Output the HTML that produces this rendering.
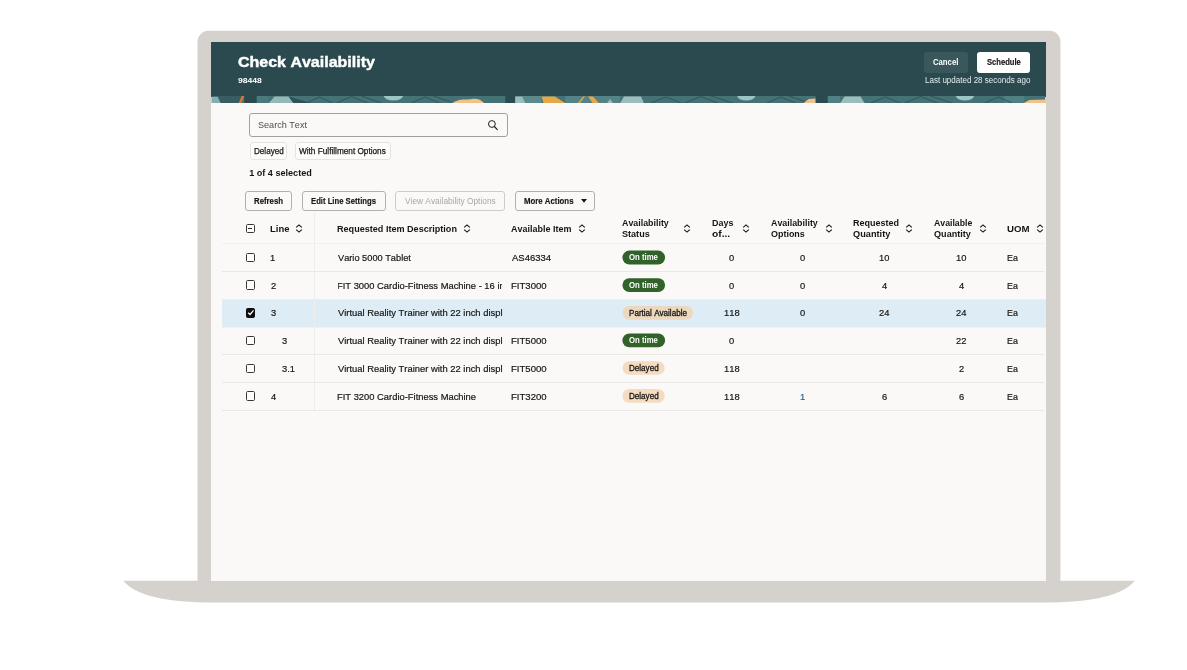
<!DOCTYPE html>
<html>
<head>
<meta charset="utf-8">
<style>
*{box-sizing:border-box;margin:0;padding:0}
html,body{width:1187px;height:670px;background:#fff;overflow:hidden}
body{font-family:"Liberation Sans",sans-serif;color:#161513;position:relative;font-kerning:none}
.abs{position:absolute}
#laptop{left:0;top:0}
#screen{left:211px;top:42px;width:835px;height:539px;background:#fbf9f8;overflow:hidden}
#pg{left:-211px;top:-42px;width:1187px;height:670px;will-change:transform}
#hdr{left:211px;top:42px;width:835px;height:54.5px;background:#2b4a50}
#strip{left:211px;top:96.1px;width:835px;height:7.2px}
.t{position:absolute;white-space:nowrap;line-height:1;transform-origin:0 0}
.clip{position:absolute;overflow:hidden}
.btn{position:absolute;border:1px solid #b3b0ab;border-radius:3px;background:#fbf9f8}
.chip{position:absolute;border:1px solid #e6e3df;border-radius:3px;background:#fdfcfb}
.hl{position:absolute;left:222px;width:822px;height:1px;background:#ebe8e4}
.bdg{position:absolute;left:622.4px;height:13.7px;border-radius:7px}
.on{background:#31622a}.pa{background:#ecd8bf}.de{background:#f5dcc0}
.cb{position:absolute;left:245.6px;width:9.4px;height:9.4px;border:1.1px solid #3a3835;border-radius:1.6px;background:#fdfcfb}
</style>
</head>
<body>
<svg id="laptop" class="abs" width="1187" height="670" viewBox="0 0 1187 670">
  <path d="M197.5,586 V41.7 A11,11 0 0 1 208.5,30.7 H1049.4 A11,11 0 0 1 1060.4,41.7 V586 Z" fill="#d5d2cd"/>
  <path d="M123.3,580.8 H1134.7 Q1117.5,602.6 1043,602.6 H215 Q140.5,602.6 123.3,580.8 Z" fill="#d5d2cd"/>
</svg>
<div id="screen" class="abs"><div id="pg" class="abs">
  <div id="hdr" class="abs"></div>
  <svg id="strip" class="abs" width="835" height="7.2" viewBox="0 0 835 7.2">
    <rect width="835" height="7.2" fill="#457275"/>
    <rect x="45" width="12" height="7.2" fill="#4a7a7c"/>
    <rect x="311" width="19.5" height="7.2" fill="#5b8a8c"/>
    <rect x="354" width="55" height="7.2" fill="#538386"/>
    <rect x="617" width="12.4" height="7.2" fill="#4f8184"/>
    <rect x="794" width="20" height="7.2" fill="#4f8184"/>
    <g fill="none" stroke="#2f5256" stroke-width="0.9">
      <path d="M95,7 L108,1 L121,7 M125,7 L140,0.5 L156,7 M150,0 L170,7"/>
      <path d="M200,7 L214,1 L228,7 M222,0 L240,6"/>
      <path d="M440,7 L455,1 L470,7 M474,7 L490,0.5 L507,7 M500,0 L522,7"/>
      <path d="M556,7 L570,1 L585,7 M578,0 L596,6"/>
      <path d="M660,7 L675,1 L690,7 M694,7 L710,0.5 L727,7 M720,0 L742,7"/>
      <path d="M774,7 L788,1 L802,7"/>
    </g>
    <polygon points="6,0 30,0 27,7.2 9,7.2" fill="#375d61"/>
    <polygon points="0,1 6,1 9,7.2 0,7.2" fill="#86aeb0"/>
    <polygon points="30,0 32.6,0 29.6,7.2 27,7.2" fill="#d9773b"/>
    <rect x="32.6" width="12.4" height="7.2" fill="#2b4a50"/>
    <polygon points="57,7.2 63,0.6 77,0.6 82,7.2" fill="#96b7b7"/>
    <polygon points="77,0.6 82,7.2 100,7.2" fill="#2f5256"/>
    <ellipse cx="182" cy="0.3" rx="9.5" ry="4.2" fill="#9cc4c4"/>
    <path d="M241,7.2 Q246,3.4 252,3.4 Q258,4 262,2.8 Q269,2.4 273,7.2 Z" fill="#f0c28a"/>
    <rect x="294" width="10" height="7.2" fill="#2b4a50"/>
    <polygon points="304,0.5 311,0.5 314,7.2 304,7.2" fill="#9dbcbc"/>
    <polygon points="330.5,0.4 343.8,0.4 354.4,7.2 332.3,7.2" fill="#e3a84a"/>
    <polygon points="366.5,7.2 368.6,7.2 374,0.4 372.2,0.4" fill="#e3a84a"/><polygon points="377,0.4 381.8,0.4 388,7.2 381.6,7.2" fill="#e3a84a"/>
    <polygon points="396,7.2 399,3 402,7.2" fill="#9dbcbc"/>
    <polygon points="409,7.2 413,0.6 430,0.6 433,7.2" fill="#9dbcbc"/>
    <ellipse cx="535.5" cy="0.3" rx="9" ry="4.2" fill="#9cc4c4"/>
    <polygon points="592.7,7.2 598,3 605,2.5 605,7.2" fill="#f0c28a"/>
    <rect x="605" width="12" height="7.2" fill="#2b4a50"/>
    <polygon points="629.4,7.2 634,0.6 650,0.6 654,7.2" fill="#9dbcbc"/>
    <ellipse cx="754.5" cy="0.3" rx="9" ry="4.2" fill="#9cc4c4"/>
    <polygon points="813,7.2 819,4 835,3.4 835,7.2" fill="#f0c28a"/>
  </svg>
  <!-- header buttons -->
  <div class="abs" style="left:923.9px;top:52.3px;width:44.1px;height:20.4px;background:#3a585c;border-radius:3px"></div>
  <div class="abs" style="left:976.8px;top:52.3px;width:53.5px;height:20.4px;background:#fff;border-radius:3px"></div>
  <!-- search -->
  <div class="abs" style="left:249.2px;top:112.6px;width:259.3px;height:24.7px;border:1px solid #a3a09b;border-radius:3px;background:#fbf9f8"></div>
  <svg class="abs" style="left:487px;top:119px" width="12" height="12" viewBox="0 0 12 12"><circle cx="4.9" cy="5" r="3.4" fill="none" stroke="#1d1c1a" stroke-width="1"/><path d="M7.4,7.5 L10.3,10.6" stroke="#1d1c1a" stroke-width="1.1" stroke-linecap="round"/></svg>
  <!-- chips -->
  <div class="chip" style="left:249.7px;top:142.3px;width:37.3px;height:17.7px"></div>
  <div class="chip" style="left:294.5px;top:142.3px;width:96.7px;height:17.7px"></div>
  <!-- toolbar buttons -->
  <div class="btn" style="left:244.7px;top:190.6px;width:47.5px;height:20.8px"></div>
  <div class="btn" style="left:301.8px;top:190.6px;width:83.9px;height:20.8px"></div>
  <div class="btn" style="left:394.8px;top:190.6px;width:110.6px;height:20.8px;border-color:#cfccc8"></div>
  <div class="btn" style="left:515px;top:190.6px;width:79.8px;height:20.8px"></div>
  <svg class="abs" style="left:581px;top:199px" width="6" height="4" viewBox="0 0 6 4"><path d="M0,0 H6 L3,3.8 Z" fill="#161513"/></svg>
  <!-- table -->
  <svg class="abs" style="left:0;top:0" width="1187" height="670" viewBox="0 0 1187 670"><rect x="222" y="299.2" width="824" height="28.3" fill="#deedf5"/></svg>
  <div class="hl" style="top:243.4px;background:#f2f0ed"></div>
  <div class="hl" style="top:270.9px"></div>
  <div class="hl" style="top:354.2px"></div>
  <div class="hl" style="top:381.9px"></div>
  <div class="hl" style="top:409.6px"></div>
  <div class="abs" style="left:314.1px;top:213px;width:1.4px;height:197px;background:#efedea"></div>
  <svg class="abs" style="left:0;top:0" width="1187" height="670" viewBox="0 0 1187 670">
<rect x="622.4" y="250.6" width="42.7" height="13.9" rx="6.95" fill="#31622a"/>
<rect x="622.4" y="278.2" width="42.7" height="13.7" rx="6.85" fill="#31622a"/>
<rect x="622.4" y="305.9" width="70.8" height="13.9" rx="6.95" fill="#ecd8bf"/>
<rect x="622.4" y="333.5" width="42.7" height="13.8" rx="6.90" fill="#31622a"/>
<rect x="622.4" y="361.2" width="42.3" height="13.6" rx="6.80" fill="#f5dcc0"/>
<rect x="622.4" y="389.1" width="42.3" height="13.6" rx="6.80" fill="#f5dcc0"/>
</svg>
  <div class="cb" style="top:224px"><i style="position:absolute;left:1.5px;top:3.05px;width:4.3px;height:1.2px;background:#2a2826"></i></div>
<div class="cb" style="top:252.76px"></div>
<div class="cb" style="top:280.48px"></div>
<div class="cb" style="top:308.20px;background:#100f0e;border-color:#100f0e"><svg style="position:absolute;left:-1.1px;top:-1.1px" width="9.4" height="9.4" viewBox="0 0 9.4 9.4"><path d="M2.2,4.7 L4.1,6.5 L7.5,2.4" fill="none" stroke="#fff" stroke-width="1.3"/></svg></div>
<div class="cb" style="top:335.92px"></div>
<div class="cb" style="top:363.64px"></div>
<div class="cb" style="top:391.36px"></div>
  <svg class="abs" style="left:295.2px;top:224.4px" width="8" height="9" viewBox="0 0 8 9"><path d="M1.2,3.4 L4,0.9 L6.8,3.4 M1.2,5.6 L4,8.1 L6.8,5.6" fill="none" stroke="#161513" stroke-width="1.15"/></svg>
<svg class="abs" style="left:462.8px;top:224.4px" width="8" height="9" viewBox="0 0 8 9"><path d="M1.2,3.4 L4,0.9 L6.8,3.4 M1.2,5.6 L4,8.1 L6.8,5.6" fill="none" stroke="#161513" stroke-width="1.15"/></svg>
<svg class="abs" style="left:577.8px;top:224.4px" width="8" height="9" viewBox="0 0 8 9"><path d="M1.2,3.4 L4,0.9 L6.8,3.4 M1.2,5.6 L4,8.1 L6.8,5.6" fill="none" stroke="#161513" stroke-width="1.15"/></svg>
<svg class="abs" style="left:683.1px;top:224.4px" width="8" height="9" viewBox="0 0 8 9"><path d="M1.2,3.4 L4,0.9 L6.8,3.4 M1.2,5.6 L4,8.1 L6.8,5.6" fill="none" stroke="#161513" stroke-width="1.15"/></svg>
<svg class="abs" style="left:742.2px;top:224.4px" width="8" height="9" viewBox="0 0 8 9"><path d="M1.2,3.4 L4,0.9 L6.8,3.4 M1.2,5.6 L4,8.1 L6.8,5.6" fill="none" stroke="#161513" stroke-width="1.15"/></svg>
<svg class="abs" style="left:824.6px;top:224.4px" width="8" height="9" viewBox="0 0 8 9"><path d="M1.2,3.4 L4,0.9 L6.8,3.4 M1.2,5.6 L4,8.1 L6.8,5.6" fill="none" stroke="#161513" stroke-width="1.15"/></svg>
<svg class="abs" style="left:905.1px;top:224.4px" width="8" height="9" viewBox="0 0 8 9"><path d="M1.2,3.4 L4,0.9 L6.8,3.4 M1.2,5.6 L4,8.1 L6.8,5.6" fill="none" stroke="#161513" stroke-width="1.15"/></svg>
<svg class="abs" style="left:979.1px;top:224.4px" width="8" height="9" viewBox="0 0 8 9"><path d="M1.2,3.4 L4,0.9 L6.8,3.4 M1.2,5.6 L4,8.1 L6.8,5.6" fill="none" stroke="#161513" stroke-width="1.15"/></svg>
<svg class="abs" style="left:1036.2px;top:224.4px" width="8" height="9" viewBox="0 0 8 9"><path d="M1.2,3.4 L4,0.9 L6.8,3.4 M1.2,5.6 L4,8.1 L6.8,5.6" fill="none" stroke="#161513" stroke-width="1.15"/></svg>
  <span class="t" style="font-size:15.4px;top:54.10px;color:#fff;font-weight:700;-webkit-text-stroke:0.45px;transform:scaleX(1.0389);left:237.84px;">Check Availability</span>
<span class="t" style="font-size:8px;top:76.80px;color:#fff;font-weight:700;transform:scaleX(1.0726);left:237.50px;">98448</span>
<span class="t" style="font-size:8.2px;top:58.70px;color:#fff;font-weight:700;transform:scaleX(0.9433);left:933.28px;">Cancel</span>
<span class="t" style="font-size:8.2px;top:58.70px;color:#161513;font-weight:700;-webkit-text-stroke:0.15px;transform:scaleX(0.9294);left:986.68px;">Schedule</span>
<span class="t" style="font-size:8.3px;top:76.15px;color:#e3ecec;transform:scaleX(0.9677);left:924.94px;">Last updated 28 seconds ago</span>
<span class="t" style="font-size:9.6px;top:120.00px;color:#4f4d4a;transform:scaleX(0.9464);left:258.19px;">Search Text</span>
<span class="t" style="font-size:8.3px;top:147.15px;color:#161513;-webkit-text-stroke:0.25px;transform:scaleX(0.9748);left:253.94px;">Delayed</span>
<span class="t" style="font-size:8.3px;top:147.15px;color:#161513;-webkit-text-stroke:0.25px;transform:scaleX(0.9908);left:299.36px;">With Fulfillment Options</span>
<span class="t" style="font-size:9.1px;top:168.75px;color:#161513;font-weight:700;left:249.13px;">1 of 4 selected</span>
<span class="t" style="font-size:8.2px;top:197.70px;color:#161513;font-weight:700;-webkit-text-stroke:0.15px;transform:scaleX(0.9533);left:253.98px;">Refresh</span>
<span class="t" style="font-size:8.2px;top:197.70px;color:#161513;font-weight:700;-webkit-text-stroke:0.15px;transform:scaleX(0.9391);left:310.88px;">Edit Line Settings</span>
<span class="t" style="font-size:8.2px;top:197.70px;color:#a9a6a2;transform:scaleX(1.0169);left:404.86px;">View Availability Options</span>
<span class="t" style="font-size:8.2px;top:197.70px;color:#161513;font-weight:700;-webkit-text-stroke:0.15px;transform:scaleX(0.9539);left:524.28px;">More Actions</span>
<span class="t" style="font-size:9.8px;top:223.90px;color:#161513;font-weight:700;transform:scaleX(0.9658);left:269.87px;">Line</span>
<span class="t" style="font-size:9.8px;top:223.90px;color:#161513;font-weight:700;transform:scaleX(0.9256);left:337.09px;">Requested Item Description</span>
<span class="t" style="font-size:9.8px;top:223.90px;color:#161513;font-weight:700;transform:scaleX(0.9177);left:511.08px;">Available Item</span>
<span class="t" style="font-size:9.8px;top:217.90px;color:#161513;font-weight:700;transform:scaleX(0.9039);left:622.38px;">Availability</span>
<span class="t" style="font-size:9.8px;top:228.90px;color:#161513;font-weight:700;transform:scaleX(0.9260);left:622.34px;">Status</span>
<span class="t" style="font-size:9.8px;top:217.90px;color:#161513;font-weight:700;transform:scaleX(0.9164);left:711.50px;">Days</span>
<span class="t" style="font-size:9.8px;top:228.90px;color:#161513;font-weight:700;transform:scaleX(1.0452);left:711.70px;">of...</span>
<span class="t" style="font-size:9.8px;top:217.90px;color:#161513;font-weight:700;transform:scaleX(0.9039);left:770.98px;">Availability</span>
<span class="t" style="font-size:9.8px;top:228.90px;color:#161513;font-weight:700;transform:scaleX(0.9140);left:770.83px;">Options</span>
<span class="t" style="font-size:9.8px;top:217.90px;color:#161513;font-weight:700;transform:scaleX(0.9181);left:853.00px;">Requested</span>
<span class="t" style="font-size:9.8px;top:228.90px;color:#161513;font-weight:700;transform:scaleX(0.9391);left:853.22px;">Quantity</span>
<span class="t" style="font-size:9.8px;top:217.90px;color:#161513;font-weight:700;transform:scaleX(0.8904);left:934.38px;">Available</span>
<span class="t" style="font-size:9.8px;top:228.90px;color:#161513;font-weight:700;transform:scaleX(0.9290);left:934.23px;">Quantity</span>
<span class="t" style="font-size:9.8px;top:223.90px;color:#161513;font-weight:700;transform:scaleX(0.9852);left:1007.32px;">UOM</span>
<span class="t" style="font-size:9.8px;top:252.90px;color:#161513;-webkit-text-stroke:0.2px;transform:scaleX(0.9550);left:270.49px;">1</span>
<span class="t" style="font-size:9.8px;top:252.90px;color:#161513;-webkit-text-stroke:0.2px;transform:scaleX(0.9424);left:337.76px;">Vario 5000 Tablet</span>
<span class="t" style="font-size:9.8px;top:252.90px;color:#161513;-webkit-text-stroke:0.2px;transform:scaleX(0.9671);left:511.58px;">AS46334</span>
<span class="t" style="font-size:9.8px;top:252.90px;color:#161513;-webkit-text-stroke:0.2px;transform:scaleX(0.9550);left:729.40px;">0</span>
<span class="t" style="font-size:9.8px;top:252.90px;color:#161513;-webkit-text-stroke:0.2px;transform:scaleX(0.9550);left:799.70px;">0</span>
<span class="t" style="font-size:9.8px;top:252.90px;color:#161513;-webkit-text-stroke:0.2px;transform:scaleX(0.9550);left:878.92px;">10</span>
<span class="t" style="font-size:9.8px;top:252.90px;color:#161513;-webkit-text-stroke:0.2px;transform:scaleX(0.9550);left:956.32px;">10</span>
<span class="t" style="font-size:9.8px;top:252.90px;color:#161513;-webkit-text-stroke:0.2px;transform:scaleX(0.9032);left:1007.17px;">Ea</span>
<span class="t" style="font-size:9.8px;top:280.90px;color:#161513;-webkit-text-stroke:0.2px;transform:scaleX(0.9550);left:270.73px;">2</span>
<div class="clip" style="left:337.80px;top:278.90px;width:164.20px;height:13.80px"><span class="t" style="font-size:9.8px;top:2px;color:#161513;-webkit-text-stroke:0.2px;transform:scaleX(0.9564);left:-0.77px;">FIT 3000 Cardio-Fitness Machine - 16 inch</span></div>
<span class="t" style="font-size:9.8px;top:280.90px;color:#161513;-webkit-text-stroke:0.2px;transform:scaleX(0.9771);left:510.81px;">FIT3000</span>
<span class="t" style="font-size:9.8px;top:280.90px;color:#161513;-webkit-text-stroke:0.2px;transform:scaleX(0.9550);left:729.40px;">0</span>
<span class="t" style="font-size:9.8px;top:280.90px;color:#161513;-webkit-text-stroke:0.2px;transform:scaleX(0.9550);left:799.70px;">0</span>
<span class="t" style="font-size:9.8px;top:280.90px;color:#161513;-webkit-text-stroke:0.2px;transform:scaleX(0.9550);left:881.73px;">4</span>
<span class="t" style="font-size:9.8px;top:280.90px;color:#161513;-webkit-text-stroke:0.2px;transform:scaleX(0.9550);left:959.13px;">4</span>
<span class="t" style="font-size:9.8px;top:280.90px;color:#161513;-webkit-text-stroke:0.2px;transform:scaleX(0.9032);left:1007.17px;">Ea</span>
<span class="t" style="font-size:9.8px;top:307.90px;color:#161513;-webkit-text-stroke:0.2px;transform:scaleX(0.9550);left:270.84px;">3</span>
<span class="t" style="font-size:9.8px;top:307.90px;color:#161513;-webkit-text-stroke:0.2px;transform:scaleX(0.9592);left:337.76px;">Virtual Reality Trainer with 22 inch displ</span>
<span class="t" style="font-size:9.8px;top:307.90px;color:#161513;-webkit-text-stroke:0.2px;transform:scaleX(0.9550);left:724.04px;">118</span>
<span class="t" style="font-size:9.8px;top:307.90px;color:#161513;-webkit-text-stroke:0.2px;transform:scaleX(0.9550);left:799.70px;">0</span>
<span class="t" style="font-size:9.8px;top:307.90px;color:#161513;-webkit-text-stroke:0.2px;transform:scaleX(0.9550);left:879.00px;">24</span>
<span class="t" style="font-size:9.8px;top:307.90px;color:#161513;-webkit-text-stroke:0.2px;transform:scaleX(0.9550);left:956.40px;">24</span>
<span class="t" style="font-size:9.8px;top:307.90px;color:#161513;-webkit-text-stroke:0.2px;transform:scaleX(0.9032);left:1007.17px;">Ea</span>
<span class="t" style="font-size:9.8px;top:335.90px;color:#161513;-webkit-text-stroke:0.2px;transform:scaleX(0.9550);left:282.24px;">3</span>
<span class="t" style="font-size:9.8px;top:335.90px;color:#161513;-webkit-text-stroke:0.2px;transform:scaleX(0.9592);left:337.76px;">Virtual Reality Trainer with 22 inch displ</span>
<span class="t" style="font-size:9.8px;top:335.90px;color:#161513;-webkit-text-stroke:0.2px;transform:scaleX(0.9771);left:510.81px;">FIT5000</span>
<span class="t" style="font-size:9.8px;top:335.90px;color:#161513;-webkit-text-stroke:0.2px;transform:scaleX(0.9550);left:729.40px;">0</span>
<span class="t" style="font-size:9.8px;top:335.90px;color:#161513;-webkit-text-stroke:0.2px;transform:scaleX(0.9550);left:956.49px;">22</span>
<span class="t" style="font-size:9.8px;top:335.90px;color:#161513;-webkit-text-stroke:0.2px;transform:scaleX(0.9032);left:1007.17px;">Ea</span>
<span class="t" style="font-size:9.8px;top:363.90px;color:#161513;-webkit-text-stroke:0.2px;transform:scaleX(0.9550);left:282.24px;">3.1</span>
<span class="t" style="font-size:9.8px;top:363.90px;color:#161513;-webkit-text-stroke:0.2px;transform:scaleX(0.9592);left:337.76px;">Virtual Reality Trainer with 22 inch displ</span>
<span class="t" style="font-size:9.8px;top:363.90px;color:#161513;-webkit-text-stroke:0.2px;transform:scaleX(0.9771);left:510.81px;">FIT5000</span>
<span class="t" style="font-size:9.8px;top:363.90px;color:#161513;-webkit-text-stroke:0.2px;transform:scaleX(0.9550);left:724.04px;">118</span>
<span class="t" style="font-size:9.8px;top:363.90px;color:#161513;-webkit-text-stroke:0.2px;transform:scaleX(0.9550);left:959.10px;">2</span>
<span class="t" style="font-size:9.8px;top:363.90px;color:#161513;-webkit-text-stroke:0.2px;transform:scaleX(0.9032);left:1007.17px;">Ea</span>
<span class="t" style="font-size:9.8px;top:391.90px;color:#161513;-webkit-text-stroke:0.2px;transform:scaleX(0.9550);left:270.99px;">4</span>
<span class="t" style="font-size:9.8px;top:391.90px;color:#161513;-webkit-text-stroke:0.2px;transform:scaleX(0.9564);left:337.03px;">FIT 3200 Cardio-Fitness Machine</span>
<span class="t" style="font-size:9.8px;top:391.90px;color:#161513;-webkit-text-stroke:0.2px;transform:scaleX(0.9771);left:510.81px;">FIT3200</span>
<span class="t" style="font-size:9.8px;top:391.90px;color:#161513;-webkit-text-stroke:0.2px;transform:scaleX(0.9550);left:724.04px;">118</span>
<span class="t" style="font-size:9.8px;top:391.90px;color:#22659a;-webkit-text-stroke:0.2px;transform:scaleX(0.9550);left:799.57px;">1</span>
<span class="t" style="font-size:9.8px;top:391.90px;color:#161513;-webkit-text-stroke:0.2px;transform:scaleX(0.9550);left:881.67px;">6</span>
<span class="t" style="font-size:9.8px;top:391.90px;color:#161513;-webkit-text-stroke:0.2px;transform:scaleX(0.9550);left:959.07px;">6</span>
<span class="t" style="font-size:9.8px;top:391.90px;color:#161513;-webkit-text-stroke:0.2px;transform:scaleX(0.9032);left:1007.17px;">Ea</span>
<span class="t" style="font-size:8.2px;top:253.70px;color:#fff;font-weight:700;transform:scaleX(0.9495);left:628.98px;">On time</span>
<span class="t" style="font-size:8.2px;top:281.70px;color:#fff;font-weight:700;transform:scaleX(0.9495);left:628.98px;">On time</span>
<span class="t" style="font-size:8.2px;top:309.70px;color:#161513;-webkit-text-stroke:0.3px;transform:scaleX(0.9868);left:628.64px;">Partial Available</span>
<span class="t" style="font-size:8.2px;top:336.70px;color:#fff;font-weight:700;transform:scaleX(0.9495);left:628.98px;">On time</span>
<span class="t" style="font-size:8.2px;top:364.70px;color:#161513;-webkit-text-stroke:0.3px;transform:scaleX(0.9867);left:628.84px;">Delayed</span>
<span class="t" style="font-size:8.2px;top:392.70px;color:#161513;-webkit-text-stroke:0.3px;transform:scaleX(0.9867);left:628.84px;">Delayed</span>
</div></div>
</body>
</html>
